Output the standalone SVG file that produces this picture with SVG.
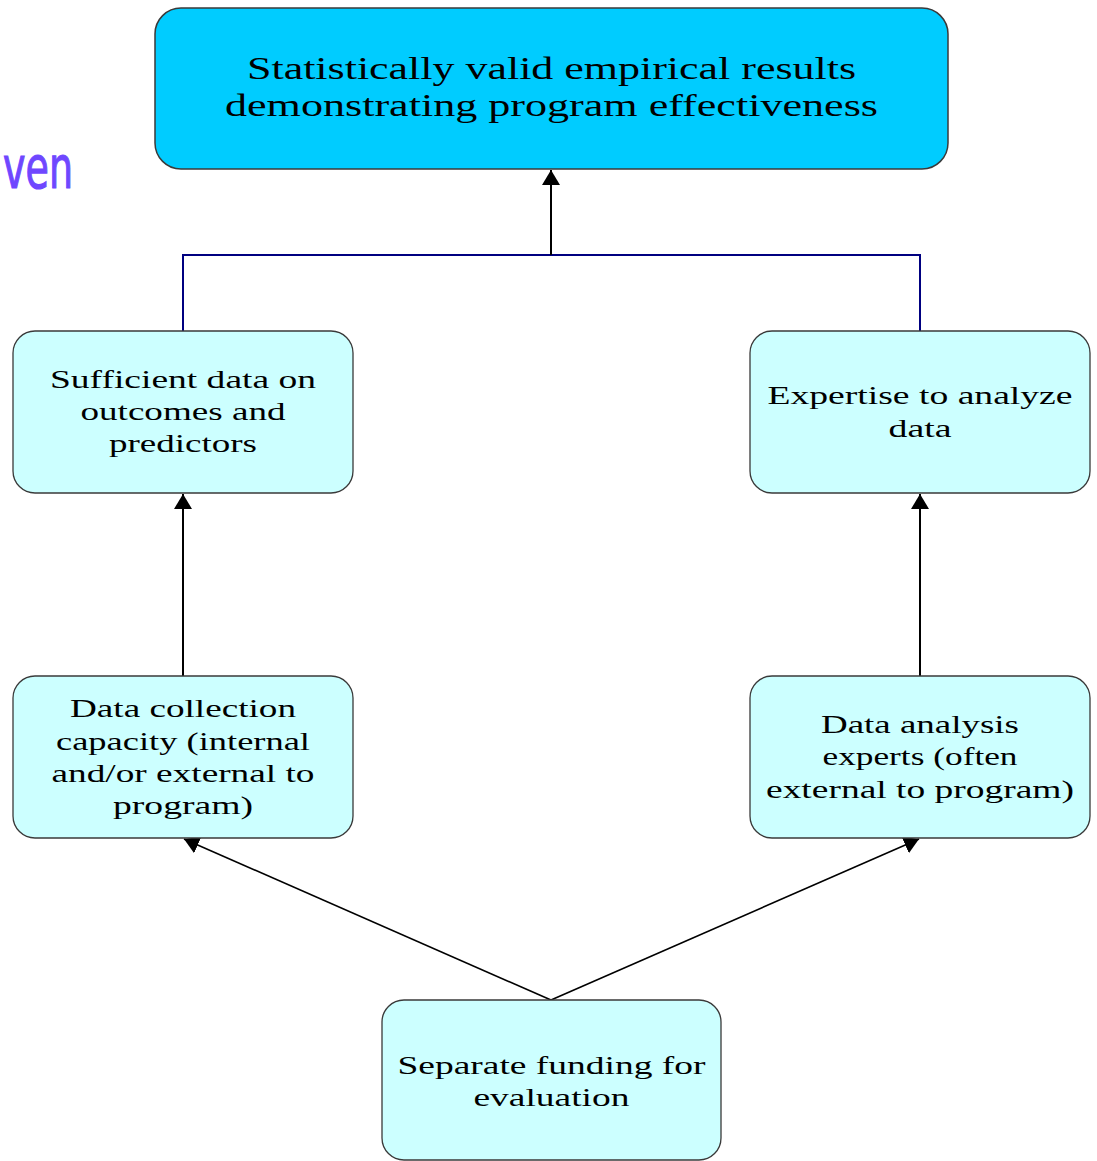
<svg xmlns="http://www.w3.org/2000/svg" width="1097" height="1161" viewBox="0 0 1097 1161">
<style>
.box{fill:#CCFFFF;stroke:#3a3a3a;stroke-width:1.3}
.top{fill:#00CCFF;stroke:#3a3a3a;stroke-width:1.5}
.t{font-family:"Liberation Serif","Times New Roman",serif;font-size:25px;fill:#000;text-anchor:middle}
.tt{font-family:"Liberation Serif","Times New Roman",serif;font-size:31px;fill:#000;text-anchor:middle}
.ar{stroke:#000;stroke-width:2;fill:none}
.thin{stroke:#000;stroke-width:1.6;fill:none}
.br{stroke:#000080;stroke-width:2;fill:none}
</style>
<defs>
<marker id="ah" viewBox="0 0 15 18" refX="15" refY="9" markerWidth="15" markerHeight="18" markerUnits="userSpaceOnUse" orient="auto">
<path d="M0,0 L15,9 L0,18 Z" fill="#000"/>
</marker>
</defs>
<rect width="1097" height="1161" fill="#fff"/>
<text x="3" y="188" font-family="'DejaVu Sans',sans-serif" font-size="58" fill="#6F47FF" stroke="#6F47FF" stroke-width="1.2" textLength="70" lengthAdjust="spacingAndGlyphs">ven</text>
<g id="connectors">
<path class="br" d="M183,331 V255 H920 V331"/>
<line class="ar" x1="551" y1="255" x2="551" y2="170" marker-end="url(#ah)"/>
<line class="ar" x1="183" y1="676" x2="183" y2="494" marker-end="url(#ah)"/>
<line class="ar" x1="920" y1="676" x2="920" y2="494" marker-end="url(#ah)"/>
<line class="thin" x1="551" y1="1000" x2="184" y2="839" marker-end="url(#ah)"/>
<line class="thin" x1="551" y1="1000" x2="919" y2="839" marker-end="url(#ah)"/>
</g>
<g id="n-top">
<rect class="top" x="155" y="8" width="793" height="161" rx="26"/>
<text class="tt" x="551.5" y="79" textLength="609" lengthAdjust="spacingAndGlyphs">Statistically valid empirical results</text>
<text class="tt" x="551.5" y="116" textLength="653" lengthAdjust="spacingAndGlyphs">demonstrating program effectiveness</text>
</g>
<g id="n-sufficient">
<rect class="box" x="13" y="331" width="340" height="162" rx="22"/>
<text class="t" x="183" y="388" textLength="266" lengthAdjust="spacingAndGlyphs">Sufficient data on</text>
<text class="t" x="183" y="420" textLength="205" lengthAdjust="spacingAndGlyphs">outcomes and</text>
<text class="t" x="183" y="452" textLength="148" lengthAdjust="spacingAndGlyphs">predictors</text>
</g>
<g id="n-expertise">
<rect class="box" x="750" y="331" width="340" height="162" rx="22"/>
<text class="t" x="920" y="404" textLength="305" lengthAdjust="spacingAndGlyphs">Expertise to analyze</text>
<text class="t" x="920" y="437" textLength="63" lengthAdjust="spacingAndGlyphs">data</text>
</g>
<g id="n-collection">
<rect class="box" x="13" y="676" width="340" height="162" rx="22"/>
<text class="t" x="183" y="717" textLength="226" lengthAdjust="spacingAndGlyphs">Data collection</text>
<text class="t" x="183" y="750" textLength="254" lengthAdjust="spacingAndGlyphs">capacity (internal</text>
<text class="t" x="183" y="782" textLength="263" lengthAdjust="spacingAndGlyphs">and/or external to</text>
<text class="t" x="183" y="814" textLength="140" lengthAdjust="spacingAndGlyphs">program)</text>
</g>
<g id="n-analysis">
<rect class="box" x="750" y="676" width="340" height="162" rx="22"/>
<text class="t" x="920" y="733" textLength="198" lengthAdjust="spacingAndGlyphs">Data analysis</text>
<text class="t" x="920" y="765" textLength="195" lengthAdjust="spacingAndGlyphs">experts (often</text>
<text class="t" x="920" y="798" textLength="308" lengthAdjust="spacingAndGlyphs">external to program)</text>
</g>
<g id="n-funding">
<rect class="box" x="382" y="1000" width="339" height="160" rx="22"/>
<text class="t" x="551.5" y="1074" textLength="308" lengthAdjust="spacingAndGlyphs">Separate funding for</text>
<text class="t" x="551.5" y="1106" textLength="156" lengthAdjust="spacingAndGlyphs">evaluation</text>
</g>
</svg>
